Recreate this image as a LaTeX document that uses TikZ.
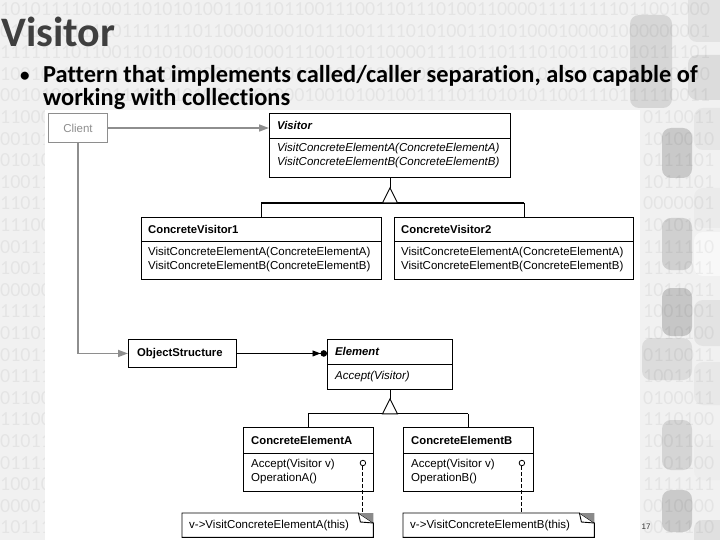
\documentclass[tikz,border=0pt]{standalone}
\usepackage{fontspec}
\setmainfont{Carlito}[Ligatures=NoCommon]
\newfontfamily\arialf{Liberation Sans}
\usetikzlibrary{arrows.meta,calc}
\definecolor{bgc}{HTML}{F1F1F1}
\definecolor{titc}{HTML}{3F3F3F}
\definecolor{cgray}{HTML}{8E8E8E}
\definecolor{foldc}{HTML}{8A8A8A}
\tikzset{
  cls/.style={draw=black, line width=0.9pt, inner sep=0pt, anchor=north west, fill=white},
  hdr/.style={anchor=west, inner sep=0pt, font=\arialf\fontsize{11.3}{13}\selectfont\bfseries},
  hdri/.style={anchor=west, inner sep=0pt, font=\arialf\fontsize{11.3}{13}\selectfont\bfseries\itshape},
  mth/.style={anchor=west, inner sep=0pt, font=\arialf\fontsize{11.5}{13}\selectfont},
  mthi/.style={anchor=west, inner sep=0pt, font=\arialf\fontsize{11.5}{13}\selectfont\itshape},
  garrow/.style={draw=cgray, line width=1.6pt, -{Triangle[length=10pt,width=7pt]}},
  link/.style={draw=black, line width=0.9pt},
  thickline/.style={draw=black, line width=1.8pt},
  tri/.style={draw=black, line width=0.9pt, fill=white},
  dig/.style={anchor=west, inner sep=0pt, text=black, text opacity=0.05, font=\fontsize{20}{20}\selectfont},
  deco/.style={rounded corners=9pt},
  notebox/.style={inner sep=0pt, anchor=north west, minimum height=24, minimum width=191},
  pin/.style={circle, draw=black, line width=0.8pt, fill=white, inner sep=0pt, minimum size=5.5},
  dashlink/.style={draw=black, line width=0.9pt, dash pattern=on 3.5pt off 2.5pt},
  titlefont/.style={font=\fontsize{42}{42}\selectfont\bfseries, text=titc, inner sep=0pt, anchor=base west},
  bulletfont/.style={font=\fontsize{24.4}{24}\selectfont\bfseries, text=black, inner sep=0pt, anchor=base west},
  bulletdot/.style={font=\fontsize{19}{19}\selectfont\bfseries, text=black, inner sep=0pt, anchor=base west}
}
\begin{document}
\begin{tikzpicture}[x=1pt,y=-1pt]
\useasboundingbox (0,0) rectangle (720,540);
\fill[bgc] (0,0) rectangle (720,540);
% decorative rounded squares on the right
\fill[deco, fill={rgb,255:red,214;green,214;blue,214}] (630,15) rectangle (672,108);
\fill[deco, fill={rgb,255:red,226;green,226;blue,226}] (688,-10) rectangle (730,42);
\fill[deco, fill={rgb,255:red,220;green,220;blue,220}] (688,55) rectangle (730,100);
\fill[deco, fill={rgb,255:red,230;green,230;blue,230}] (694,108) rectangle (730,150);
\fill[deco, fill={rgb,255:red,201;green,201;blue,201}] (662,128) rectangle (692,178);
\fill[deco, fill={rgb,255:red,235;green,235;blue,235}] (694,188) rectangle (730,228);
\fill[deco, fill={rgb,255:red,208;green,208;blue,208}] (662,218) rectangle (692,270);
\fill[deco, fill={rgb,255:red,248;green,248;blue,248}] (694,232) rectangle (730,276);
\fill[deco, fill={rgb,255:red,198;green,198;blue,198}] (662,288) rectangle (692,336);
\fill[deco, fill={rgb,255:red,220;green,220;blue,220}] (642,338) rectangle (692,380);
\fill[deco, fill={rgb,255:red,227;green,227;blue,227}] (694,300) rectangle (730,346);
\fill[deco, fill={rgb,255:red,232;green,232;blue,232}] (694,362) rectangle (730,405);
\fill[deco, fill={rgb,255:red,213;green,213;blue,213}] (662,420) rectangle (692,470);
\fill[deco, fill={rgb,255:red,237;green,237;blue,237}] (694,440) rectangle (730,480);
\fill[deco, fill={rgb,255:red,202;green,202;blue,202}] (662,490) rectangle (692,532);
\fill[deco, fill={rgb,255:red,224;green,224;blue,224}] (694,520) rectangle (730,560);
% binary background: full rows above the panel
\begin{scope}
\clip (0,0) rectangle (720,540);
\foreach \k/\s in {
0/1010111101001101010100110110110011100110111010011000011111111011001000,
1/0101110111101111111011000010010111001111010100110101000100001000000001,
2/1111111011001101010010001000111001101100001111011011101001101010111101,
3/1001011111011101001000010101010110111001100010001101101011010011110100,
4/0010100111011110110100101010001001010010011110110101011001110111110011}
  \node[dig] (bin\k) at (0, 9+21.6*\k) {\s};
% beside the panel: left and right margins
\foreach \k/\l/\r in {
5/11000/0110011,6/00101/1010010,7/01010/0111101,8/10011/1011101,9/11011/0000001,
10/11100/1010101,11/00111/1111110,12/10011/1111011,13/00000/1011011,14/11111/1001001,
15/01101/1010100,16/01011/0110011,17/01111/1001111,18/01100/0100011,19/11100/1110100,
20/01011/1001101,21/01111/1101100,22/10010/1111111,23/00001/0010000,24/10111/0011110}
{
  \node[dig] (binL\k) at (0, 9+21.6*\k) {\l};
  \node[dig] (binR\k) at (643, 9+21.6*\k) {\r};
}
\end{scope}
% white panel
\fill[white] (45,110) rectangle (640,540);
% title and bullet
\node[titlefont] (title) at (1,47) {Visitor};
\node[bulletdot] (bullet) at (20,82) {•};
\node[bulletfont] (line1) at (43,83) {Pattern that implements called/caller separation, also capable of};
\node[bulletfont] (line2) at (43,106) {working with collections};
% page number
\node[inner sep=0pt, font=\arialf\fontsize{8}{8}\selectfont, text=black!80] (pageno) at (646,527) {17};

% ---------- classes ----------
\node[cls, draw=cgray, line width=1pt, minimum width=59, minimum height=29, text=cgray, font=\arialf\fontsize{11.5}{13}\selectfont] (client) at (48,113) {Client};

\node[cls, minimum width=241, minimum height=64] (visitor) at (269,113) {};
\draw[link] ($(visitor.north west)+(0,25)$) -- ($(visitor.north east)+(0,25)$);
\node[hdri] (visitorN) at ($(visitor.north west)+(8,12.5)$) {Visitor};
\node[mthi] (visitorM1) at ($(visitor.north west)+(8,36)$) {VisitConcreteElementA(ConcreteElementA)};
\node[mthi] (visitorM2) at ($(visitor.north west)+(8,50)$) {VisitConcreteElementB(ConcreteElementB)};

\node[cls, minimum width=240, minimum height=62] (cv1) at (141,217) {};
\draw[link] ($(cv1.north west)+(0,24)$) -- ($(cv1.north east)+(0,24)$);
\node[hdr] (cv1N) at ($(cv1.north west)+(7,12)$) {ConcreteVisitor1};
\node[mth] (cv1M1) at ($(cv1.north west)+(7,36)$) {VisitConcreteElementA(ConcreteElementA)};
\node[mth] (cv1M2) at ($(cv1.north west)+(7,49.5)$) {VisitConcreteElementB(ConcreteElementB)};

\node[cls, minimum width=239, minimum height=62] (cv2) at (394,217) {};
\draw[link] ($(cv2.north west)+(0,24)$) -- ($(cv2.north east)+(0,24)$);
\node[hdr] (cv2N) at ($(cv2.north west)+(7,12)$) {ConcreteVisitor2};
\node[mth] (cv2M1) at ($(cv2.north west)+(7,36)$) {VisitConcreteElementA(ConcreteElementA)};
\node[mth] (cv2M2) at ($(cv2.north west)+(7,49.5)$) {VisitConcreteElementB(ConcreteElementB)};

\node[cls, minimum width=108, minimum height=28] (os) at (128,339) {};
\node[hdr] (osN) at ($(os.west)+(9,0)$) {ObjectStructure};

\node[cls, minimum width=125, minimum height=50] (el) at (327,339) {};
\draw[link] ($(el.north west)+(0,25)$) -- ($(el.north east)+(0,25)$);
\node[hdri] (elN) at ($(el.north west)+(8,12.5)$) {Element};
\node[mthi] (elM) at ($(el.north west)+(8,37.5)$) {Accept(Visitor)};

\node[cls, minimum width=130, minimum height=64] (cea) at (243,427) {};
\draw[link] ($(cea.north west)+(0,26)$) -- ($(cea.north east)+(0,26)$);
\node[hdr] (ceaN) at ($(cea.north west)+(8,13)$) {ConcreteElementA};
\node[mth] (ceaM1) at ($(cea.north west)+(8,38)$) {Accept(Visitor v)};
\node[mth] (ceaM2) at ($(cea.north west)+(8,51.5)$) {OperationA()};

\node[cls, minimum width=130, minimum height=64] (ceb) at (403,427) {};
\draw[link] ($(ceb.north west)+(0,26)$) -- ($(ceb.north east)+(0,26)$);
\node[hdr] (cebN) at ($(ceb.north west)+(8,13)$) {ConcreteElementB};
\node[mth] (cebM1) at ($(ceb.north west)+(8,38)$) {Accept(Visitor v)};
\node[mth] (cebM2) at ($(ceb.north west)+(8,51.5)$) {OperationB()};

% ---------- notes ----------
\node[notebox] (noteA) at (182,513) {};
\node[notebox] (noteB) at (403,513) {};
\foreach \n in {noteA,noteB}{
  \draw[link, fill=white] (\n.north west) -- ($(\n.north east)+(-15,0)$) -- ($(\n.north east)+(0,10)$) -- (\n.south east) -- (\n.south west) -- cycle;
  \fill[foldc] ($(\n.north east)+(-15,0)$) -- (\n.north east) -- ($(\n.north east)+(0,10)$) -- cycle;
  \draw[link] ($(\n.north east)+(-15,0)$) -- ($(\n.north east)+(-13,9)$) -- ($(\n.north east)+(0,10)$);
}
\node[mth] (noteAT) at ($(noteA.west)+(7,0)$) {v-{}>VisitConcreteElementA(this)};
\node[mth] (noteBT) at ($(noteB.west)+(7,0)$) {v-{}>VisitConcreteElementB(this)};

% ---------- connectors ----------
\draw[garrow] (client.east) -- (client.east -| visitor.west);
\draw[garrow] (client.south) -- (client.south |- os.west) -- (os.west);
\draw[link, -{Triangle[length=8pt,width=6pt] Circle[length=6.5pt]}] (os.east) -- (os.east -| el.west);

% visitor inheritance
\coordinate (vApex) at ($(visitor.south)+(0,10)$);
\coordinate (vBase) at ($(visitor.south)+(0,25)$);
\coordinate (cv2Drop) at ($(cv2.north)+(10.5,0)$);
\draw[link] (visitor.south) -- (vApex);
\draw[thickline] (vBase -| cv1.north) -- (vBase -| cv2Drop);
\draw[link] (vBase -| cv1.north) -- (cv1.north);
\draw[link] (vBase -| cv2Drop) -- (cv2Drop);
\draw[tri] (vApex) -- ++(-7.5,15) -- ++(15,0) -- cycle;

% element inheritance
\coordinate (eApex) at ($(el.south)+(0,9)$);
\coordinate (eBase) at ($(el.south)+(0,24)$);
\draw[link] (el.south) -- (eApex);
\draw[link] (eBase -| cea.north) -- (eBase -| ceb.north);
\draw[link] (eBase -| cea.north) -- (cea.north);
\draw[link] (eBase -| ceb.north) -- (ceb.north);
\draw[tri] (eApex) -- ++(-7.5,15) -- ++(15,0) -- cycle;

% pins and dashed links to notes
\node[pin] (pinA) at ($(cea.north east)+(-11,36)$) {};
\node[pin] (pinB) at ($(ceb.north east)+(-12,36)$) {};
\draw[dashlink] (pinA.south) -- (pinA.south |- noteA.north);
\draw[dashlink] (pinB.south) -- (pinB.south |- noteB.north);
\end{tikzpicture}
\end{document}
